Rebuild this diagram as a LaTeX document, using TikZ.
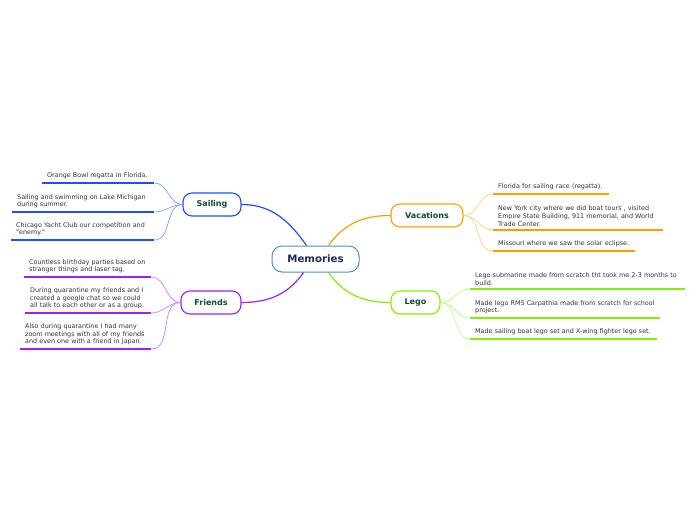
\documentclass[tikz,border=0pt]{standalone}
\usepackage{fontspec}
\setmainfont{DejaVu Sans}
\newfontfamily\mapfont{DejaVu Sans}
\definecolor{sailC}{HTML}{1E4DFF}
\definecolor{sailL}{HTML}{7C9BFF}
\definecolor{friC}{HTML}{A11FF0}
\definecolor{friL}{HTML}{CB80FF}
\definecolor{vacC}{HTML}{FF9D00}
\definecolor{vacL}{HTML}{FFCF80}
\definecolor{legC}{HTML}{82F000}
\definecolor{legL}{HTML}{BCFF78}
\definecolor{memC}{HTML}{4A90D2}
\definecolor{memT}{HTML}{1A2A58}
\definecolor{subT}{HTML}{124A38}
\definecolor{leafT}{HTML}{333333}
\tikzset{
  memnode/.style={draw=memC, line width=1pt, fill=white, rounded corners=10pt,
    minimum width=87pt, minimum height=26pt, inner sep=0pt,
    font=\mapfont\fontsize{10.2}{12}\selectfont\bfseries, text=memT},
  subnode/.style={draw=#1, line width=1.1pt, fill=white, rounded corners=9pt,
    minimum height=23pt, inner sep=0pt,
    font=\mapfont\fontsize{8}{9}\selectfont\bfseries, text=subT},
  leafL/.style={anchor=south west, inner xsep=5pt, inner ysep=3.5pt, align=left,
    font=\mapfont\fontsize{6.4}{7.8}\selectfont, text=leafT},
  uline/.style={draw=#1, line width=1.5pt},
  mainline/.style={draw=#1, line width=1.2pt},
  thinline/.style={draw=#1, line width=0.7pt},
}
\begin{document}
\begin{tikzpicture}[x=1pt,y=1pt]
\useasboundingbox (0,0) rectangle (696,-520);
% central and main topics
\node[memnode] (mem) at (315.5,-259) {Memories};
\node[subnode=sailC, minimum width=58pt] (sail) at (212,-204.5) {Sailing};
\node[subnode=friC, minimum width=60pt] (fri) at (211,-302.5) {Friends};
\node[subnode=vacC, minimum width=72pt] (vac) at (427,-215.5) {Vacations};
\node[subnode=legC, minimum width=49pt] (lego) at (415.5,-302.5) {Lego};
% main connectors
\draw[mainline=sailC] (sail.east) to[out=0,in=125] ([xshift=-9pt]mem.north);
\draw[mainline=vacC] ([xshift=13pt]mem.north) to[out=55,in=180] (vac.west);
\draw[mainline=friC] (fri.east) to[out=0,in=-125] ([xshift=-12pt]mem.south);
\draw[mainline=legC] ([xshift=13pt]mem.south) to[out=-55,in=180] (lego.west);
% Sailing leaves
\node[leafL, text width=102pt] (s1) at (42,-183) {Orange Bowl regatta in Florida.};
\node[leafL, text width=132pt] (s2) at (12,-212) {Sailing and swimming on Lake Michigan\\during summer.};
\node[leafL, text width=133pt] (s3) at (11,-240) {Chicago Yacht Club our competition and\\"enemy."};
\foreach \n in {s1,s2,s3}{
  \draw[uline=sailC] (\n.south west) -- (\n.south east);
  \draw[thinline=sailL] (sail.west) to[out=180,in=0] (\n.south east);
}
% Friends leaves
\node[leafL, text width=117pt] (f1) at (24,-277) {Countless birthday parties based on\\stranger things and laser tag.};
\node[leafL, text width=116pt] (f2) at (25,-313) {During quarantine my friends and I\\created a google chat so we could\\all talk to each other or as a group.};
\node[leafL, text width=121pt] (f3) at (20,-349) {Also during quarantine I had many\\zoom meetings with all of my friends\\and even one with a friend in Japan.};
\foreach \n in {f1,f2,f3}{
  \draw[uline=friC] (\n.south west) -- (\n.south east);
  \draw[thinline=friL] (fri.west) to[out=180,in=0] (\n.south east);
}
% Vacations leaves
\node[leafL, text width=106pt] (v1) at (493,-194) {Florida for sailing race (regatta).};
\node[leafL, text width=160pt] (v2) at (493,-230) {New York city where we did boat tours , visited\\Empire State Building, 911 memorial, and World\\Trade Center.};
\node[leafL, text width=132pt] (v3) at (493,-251) {Missouri where we saw the solar eclipse.};
\foreach \n in {v1,v2,v3}{
  \draw[uline=vacC] (\n.south west) -- (\n.south east);
  \draw[thinline=vacL] (vac.east) to[out=0,in=180] (\n.south west);
}
% Lego leaves
\node[leafL, text width=205pt] (l1) at (470,-289) {Lego submarine made from scratch tht took me 2-3 months to\\build.};
\node[leafL, text width=180pt] (l2) at (470,-318) {Made lego RMS Carpathia made from scratch for school\\project.};
\node[leafL, text width=177pt] (l3) at (470,-339) {Made sailing boat lego set and X-wing fighter lego set.};
\foreach \n in {l1,l2,l3}{
  \draw[uline=legC] (\n.south west) -- (\n.south east);
  \draw[thinline=legL] (lego.east) to[out=0,in=180] (\n.south west);
}
\end{tikzpicture}
\end{document}
